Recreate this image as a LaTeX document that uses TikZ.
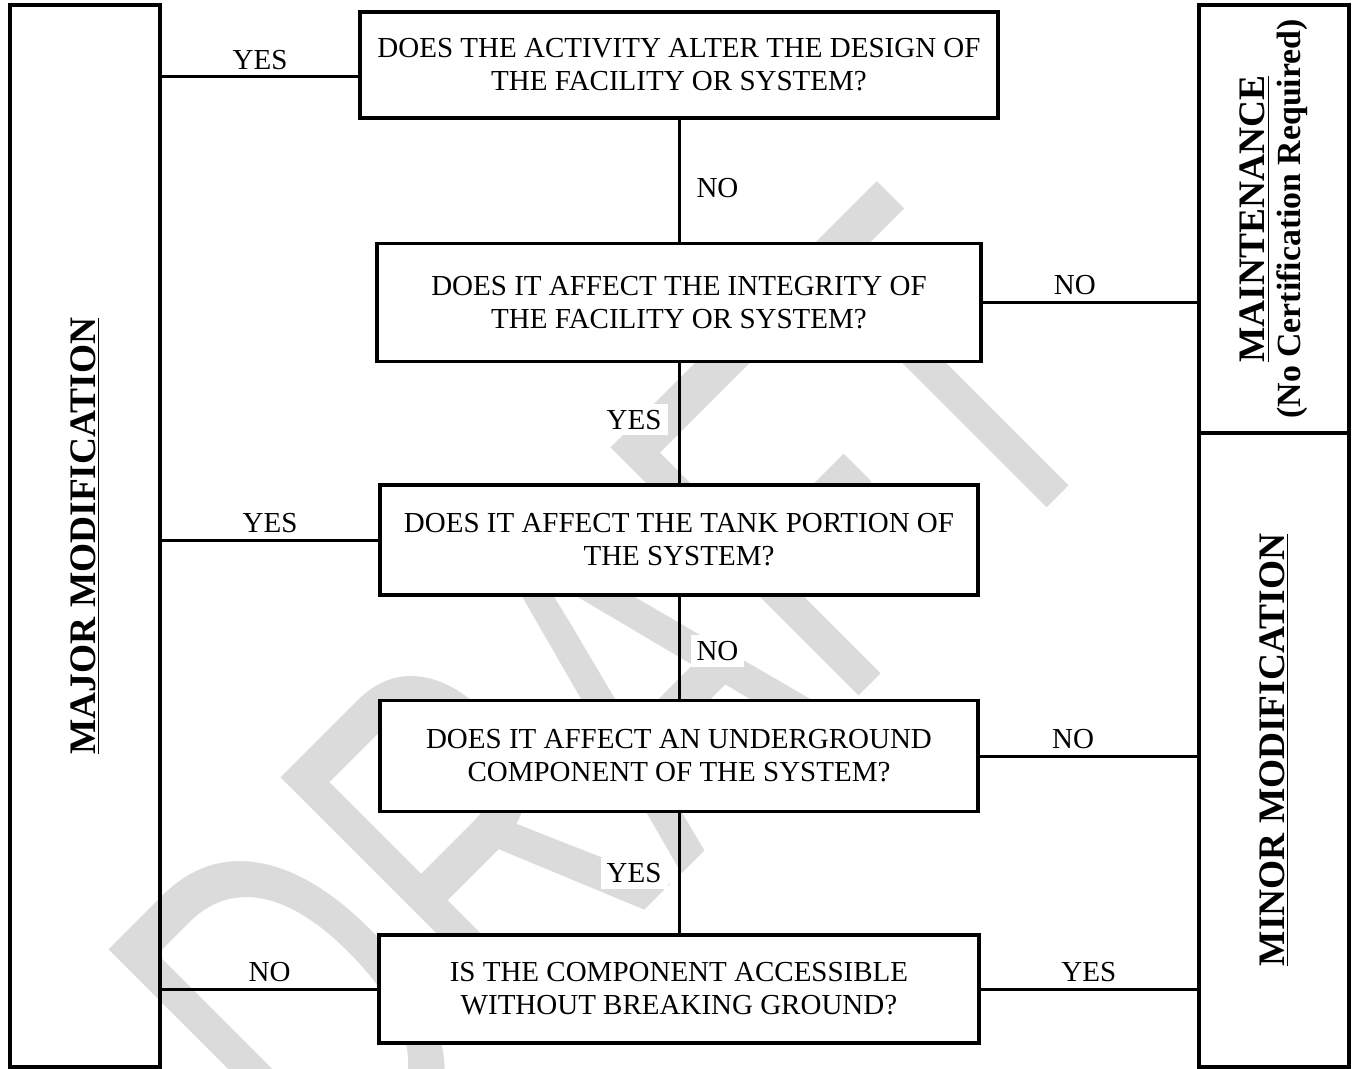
\documentclass[tikz,border=0pt]{standalone}
\usepackage{fontspec}
\setmainfont{Liberation Serif}
\newfontfamily\markfont{Liberation Sans}
\usepackage{tikz}
\usetikzlibrary{positioning, calc}

\begin{document}
\begin{tikzpicture}[
  x=0.5pt, y=-0.5pt,
  font=\fontsize{14.5}{16.5}\selectfont,
  quest/.style={draw, line width=1.75pt, fill=white, align=center,
    minimum width=300pt, minimum height=55pt, inner sep=2pt},
  outcome/.style={draw, line width=2pt, rotate=90, minimum height=75pt,
    align=center, font=\fontsize{18.7}{18}\selectfont\bfseries},
  lbl/.style={fill=white, inner sep=3pt},
  lblR/.style={lbl, right=5pt},
  lblL/.style={lbl, left=5pt},
  link/.style={line width=1.5pt},
  draftmark/.style={text=black!14, rotate=45,
    font=\markfont\fontsize{255}{255}\selectfont},
]
  \useasboundingbox (0,0) rectangle (1354,1069);

  % watermark
  \node[draftmark] (wm) at (610,697) {\scalebox{0.66}[1]{DRAFT}};

  \node[outcome, minimum width=531pt] (major) at (85,536)
    {\underline{MAJOR MODIFICATION}};
  \node[outcome, minimum width=214pt] (maint) at (1274,219)
    {\underline{MAINTENANCE}\\{\fontsize{16.9}{18}\selectfont (No Certification Required)}};
  \node[outcome, minimum width=317pt] (minor) at (1274,750)
    {\underline{MINOR MODIFICATION}};

  \node[quest, minimum width=319pt, minimum height=53pt] (q1) at (679,65)
    {DOES THE ACTIVITY ALTER THE DESIGN OF\\THE FACILITY OR SYSTEM?};
  \node[quest, minimum width=302pt, minimum height=59pt, below=61pt of q1] (q2)
    {DOES IT AFFECT THE INTEGRITY OF\\THE FACILITY OR SYSTEM?};
  \node[quest, minimum width=299pt, below=60pt of q2] (q3)
    {DOES IT AFFECT THE TANK PORTION OF\\THE SYSTEM?};
  \node[quest, minimum width=299pt, minimum height=55.5pt, below=51pt of q3] (q4)
    {DOES IT AFFECT AN UNDERGROUND\\COMPONENT OF THE SYSTEM?};
  \node[quest, minimum width=300pt, minimum height=54pt, below=60pt of q4] (q5)
    {IS THE COMPONENT ACCESSIBLE\\WITHOUT BREAKING GROUND?};

  \foreach \a/\b/\t/\p/\s in {q1/q2/NO/0.56/lblR, q2/q3/YES/0.47/lblL,
                              q3/q4/NO/0.53/lblR, q4/q5/YES/0.5/lblL}
    \draw[link] (\a) -- node[\s, pos=\p] {\t} (\b);

  \draw[link] ([yshift=-6pt]q1.west) -- node[lbl, above] {YES}
    ([yshift=-6pt]q1.west -| major.south);
  \draw[link] (q3.west) -- node[lbl, above] {YES} (q3.west -| major.south);
  \draw[link] (q5.west) -- node[lbl, above] {NO} (q5.west -| major.south);
  \draw[link] (q2.east) -- node[lbl, above, pos=0.43] {NO} (q2.east -| maint.north);
  \draw[link] (q4.east) -- node[lbl, above, pos=0.43] {NO} (q4.east -| minor.north);
  \draw[link] (q5.east) -- node[lbl, above] {YES} (q5.east -| minor.north);
\end{tikzpicture}
\end{document}
